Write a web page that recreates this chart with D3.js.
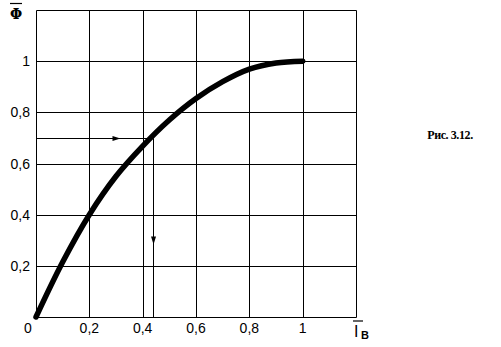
<!DOCTYPE html>
<html><head><meta charset="utf-8">
<script src="https://cdn.jsdelivr.net/npm/d3@7"></script>
<style>body{margin:0;background:#fff}svg{display:block}</style>
</head><body>
<script>
const xTicks = [0, 0.2, 0.4, 0.6, 0.8, 1];
const yTicks = [0.2, 0.4, 0.6, 0.8, 1];
const xTickLabels = ["0", "0,2", "0,4", "0,6", "0,8", "1"];
const yTickLabels = ["0,2", "0,4", "0,6", "0,8", "1"];
const curveX = [0, 0.1, 0.2, 0.3, 0.4, 0.5, 0.6, 0.7, 0.8, 0.9, 1.0];
const curveY = [0, 0.215, 0.40, 0.55, 0.668, 0.77, 0.854, 0.92, 0.969, 0.993, 1.0];
const readX = 0.44, readY = 0.7;

const W = 501, H = 347;
const svg = d3.select("body").append("svg").attr("width", W).attr("height", H);
const x = d3.scaleLinear().domain([0, 1.2]).range([36, 356]);
const y = d3.scaleLinear().domain([0, 1.2]).range([317, 10]);
const px = v => Math.round(x(v)) + 0.5;
const py = v => Math.round(y(v)) + 0.5;

const g = svg.append("g").attr("stroke", "#000").attr("stroke-width", 1);
// grid
[0, ...xTicks.slice(1), 1.2].forEach(v => g.append("line").attr("x1", px(v)).attr("x2", px(v)).attr("y1", py(0)).attr("y2", py(1.2)));
[0, ...yTicks, 1.2].forEach(v => g.append("line").attr("x1", px(0)).attr("x2", px(1.2)).attr("y1", py(v)).attr("y2", py(v)));

// reading lines
g.append("line").attr("x1", px(0)).attr("x2", px(readX)).attr("y1", py(readY)).attr("y2", py(readY));
g.append("line").attr("x1", px(readX)).attr("x2", px(readX)).attr("y1", py(readY)).attr("y2", py(0));
// arrowheads
const ax = px(0.3), ay = py(readY);
svg.append("path").attr("d", `M${ax-4},${ay-2.5}L${ax+4},${ay}L${ax-4},${ay+2.5}Z`).attr("fill", "#000");
const bx = px(readX), by = py(0.3);
svg.append("path").attr("d", `M${bx-2.5},${by-4}L${bx},${by+4}L${bx+2.5},${by-4}Z`).attr("fill", "#000");

// curve
const pts = curveX.map((v, i) => [v, curveY[i]]);
svg.append("path").datum(pts)
  .attr("d", d3.line().x(d => x(d[0])).y(d => y(d[1])).curve(d3.curveCatmullRom.alpha(0.5)))
  .attr("fill", "none").attr("stroke", "#000").attr("stroke-width", 5.5).attr("stroke-linecap", "round");

// tick labels
const font = "Liberation Sans, Arial, sans-serif";
svg.append("g").selectAll("text").data(yTicks).join("text")
  .attr("x", 30).attr("y", d => y(d) + 5).attr("text-anchor", "end")
  .attr("font-family", font).attr("font-size", 14).text((d, i) => yTickLabels[i]);
svg.append("g").selectAll("text").data(xTicks).join("text")
  .attr("x", (d, i) => i === 0 ? 28 : x(d)).attr("y", 333).attr("text-anchor", "middle")
  .attr("font-family", font).attr("font-size", 14).text((d, i) => xTickLabels[i]);

// axis titles
svg.append("text").attr("x", 16).attr("y", 19).attr("text-anchor", "middle")
  .attr("font-family", "DejaVu Serif, serif").attr("font-weight", "bold").attr("font-size", 14).text("Φ");
svg.append("line").attr("x1", 10).attr("x2", 22).attr("y1", 3.5).attr("y2", 3.5).attr("stroke", "#000").attr("stroke-width", 1.2);

svg.append("text").attr("x", 354).attr("y", 337)
  .attr("font-family", font).attr("font-size", 16).text("I");
svg.append("text").attr("x", 361).attr("y", 339)
  .attr("font-family", font).attr("font-weight", "bold").attr("font-size", 11).text("B");
svg.append("line").attr("x1", 353).attr("x2", 363).attr("y1", 321).attr("y2", 321).attr("stroke", "#000").attr("stroke-width", 1.2);

svg.append("text").attr("x", 450).attr("y", 139).attr("text-anchor", "middle")
  .attr("font-family", "Liberation Serif, Times New Roman, serif").attr("font-weight", "bold")
  .attr("font-size", 12).attr("letter-spacing", -0.4).text("Рис. 3.12.");
</script>
</body></html>
